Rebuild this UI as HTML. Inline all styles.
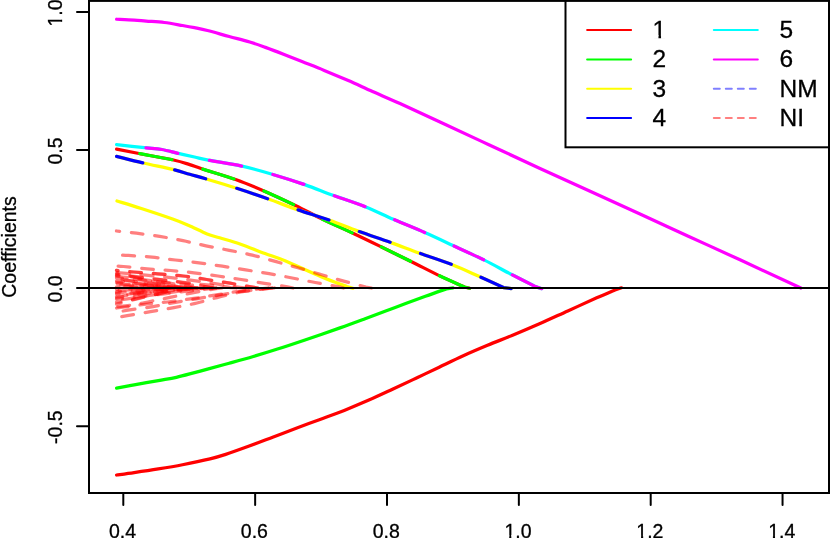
<!DOCTYPE html>
<html><head><meta charset="utf-8"><title>Coefficient paths</title>
<style>html,body{margin:0;padding:0;background:#fff}body{width:830px;height:538px;overflow:hidden}svg{display:block}text{font-family:"Liberation Sans",sans-serif;fill:#000}</style>
</head><body>
<div style="will-change:transform;width:830px;height:538px">
<svg width="830" height="538" viewBox="0 0 830 538">
<rect x="0" y="0" width="830" height="538" fill="#fff"/>
<g fill="none" stroke-width="3.25" stroke-linecap="round" stroke-linejoin="round">
<path d="M621.50 287.80 L615.00 289.90 C611.95 291.22 604.57 294.34 596.70 297.84 C588.83 301.34 577.43 306.57 567.80 310.93 C558.17 315.28 548.20 319.91 538.90 324.00 C529.60 328.08 520.57 331.89 512.00 335.44 C503.43 339.00 495.62 341.94 487.50 345.33 C479.38 348.72 471.35 352.12 463.30 355.76 C455.25 359.40 447.08 363.41 439.20 367.16 C431.32 370.91 423.78 374.56 416.00 378.24 C408.22 381.92 400.45 385.56 392.50 389.24 C384.55 392.93 376.35 396.81 368.30 400.34 C360.25 403.86 352.25 407.22 344.20 410.42 C336.15 413.61 327.78 416.59 320.00 419.48 C312.22 422.37 305.28 424.83 297.50 427.74 C289.72 430.65 281.35 433.88 273.30 436.93 C265.25 439.99 257.25 443.12 249.20 446.07 C241.15 449.01 231.53 452.46 225.00 454.59 C218.47 456.73 217.08 457.19 210.00 458.88 C202.92 460.57 191.12 463.05 182.50 464.73 C173.88 466.41 166.35 467.64 158.30 468.95 C150.25 470.27 141.15 471.60 134.20 472.60 C127.25 473.61 119.53 474.60 116.60 475.00" stroke="#ff0000"/>
<path d="M453.00 287.90 L446.40 288.90 C442.90 290.13 433.93 293.21 425.40 296.29 C416.87 299.38 405.25 303.68 395.20 307.41 C385.15 311.14 374.30 315.29 365.10 318.69 C355.90 322.10 350.02 324.30 340.00 327.85 C329.98 331.39 315.42 336.42 305.00 339.96 C294.58 343.49 286.12 346.31 277.50 349.07 C268.88 351.83 261.35 354.14 253.30 356.51 C245.25 358.87 236.83 361.16 229.20 363.26 C221.57 365.37 213.28 367.58 207.50 369.14 C201.72 370.70 199.68 371.25 194.50 372.61 C189.32 373.97 182.43 375.98 176.40 377.30 C170.37 378.62 165.33 379.28 158.30 380.54 C151.27 381.79 141.15 383.59 134.20 384.85 C127.25 386.11 119.53 387.56 116.60 388.10" stroke="#00ff00"/>
<path d="M353.00 288.20 L347.00 286.60 C342.68 284.95 331.43 281.00 321.10 276.70 C310.77 272.40 294.35 264.67 285.00 260.80 C275.65 256.93 272.50 256.30 265.00 253.50 C257.50 250.70 247.57 246.62 240.00 244.00 C232.43 241.38 225.08 239.48 219.60 237.80 C214.12 236.12 212.32 236.00 207.10 233.90 C201.88 231.80 194.05 227.68 188.30 225.20 C182.55 222.72 180.43 221.78 172.60 219.00 C164.77 216.22 150.57 211.50 141.30 208.50 C132.03 205.50 121.05 202.25 117.00 201.00" stroke="#ffff00"/>
<path d="M800.80 288.00 L740.00 259.80 C731.38 255.87 704.97 243.82 688.30 236.20 C671.63 228.58 664.72 225.40 640.00 214.10 C615.28 202.80 565.28 180.00 540.00 168.40 C514.72 156.80 504.97 152.23 488.30 144.50 C471.63 136.77 454.72 128.82 440.00 122.00 C425.28 115.18 411.25 108.68 400.00 103.60 C388.75 98.52 381.12 95.33 372.50 91.50 C363.88 87.67 356.35 84.12 348.30 80.60 C340.25 77.08 331.92 73.57 324.20 70.40 C316.48 67.23 308.78 64.29 302.00 61.60 C295.22 58.91 289.60 56.62 283.50 54.25 C277.40 51.88 271.03 49.44 265.40 47.40 C259.77 45.36 255.73 43.82 249.70 42.00 C243.67 40.18 236.23 38.42 229.20 36.50 C222.17 34.58 213.28 31.97 207.50 30.50 C201.72 29.03 198.67 28.53 194.50 27.70 C190.33 26.87 187.53 26.37 182.50 25.50 C177.47 24.63 170.35 23.23 164.30 22.50 C158.25 21.77 151.22 21.50 146.20 21.10 C141.18 20.70 139.13 20.41 134.20 20.10 C129.27 19.79 119.53 19.39 116.60 19.25" stroke="#ff00ff"/>
<path d="M469.50 288.30 L464.50 287.00 C460.28 285.10 447.95 279.77 439.20 275.60 C430.45 271.43 421.70 266.82 412.00 262.00 C402.30 257.18 390.67 251.42 381.00 246.70 C371.33 241.98 363.80 238.30 354.00 233.70 C344.20 229.10 331.97 223.80 322.20 219.10 C312.43 214.40 305.22 210.23 295.40 205.50 C285.58 200.77 273.27 195.03 263.30 190.70 C253.33 186.37 245.77 183.12 235.60 179.50 C225.43 175.88 209.95 171.48 202.30 169.00 C194.65 166.52 194.52 166.10 189.70 164.60 C184.88 163.10 181.85 161.85 173.40 160.00 C164.95 158.15 148.47 155.32 139.00 153.50 C129.53 151.68 120.33 149.83 116.60 149.10" stroke="#ff0000"/>
<path d="M469.50 288.30 L464.50 287.00 C460.28 285.10 447.95 279.77 439.20 275.60 C430.45 271.43 421.70 266.82 412.00 262.00 C402.30 257.18 390.67 251.42 381.00 246.70 C371.33 241.98 363.80 238.30 354.00 233.70 C344.20 229.10 331.97 223.80 322.20 219.10 C312.43 214.40 305.22 210.23 295.40 205.50 C285.58 200.77 273.27 195.03 263.30 190.70 C253.33 186.37 245.77 183.12 235.60 179.50 C225.43 175.88 209.95 171.48 202.30 169.00 C194.65 166.52 194.52 166.10 189.70 164.60 C184.88 163.10 181.85 161.85 173.40 160.00 C164.95 158.15 148.47 155.32 139.00 153.50 C129.53 151.68 120.33 149.83 116.60 149.10" stroke="#00ff00" stroke-dasharray="32.5 32.5"/>
<path d="M511.20 288.60 L503.50 287.60 C499.48 285.77 488.02 280.45 479.40 276.60 C470.78 272.75 461.82 268.42 451.80 264.50 C441.78 260.58 429.43 256.75 419.30 253.10 C409.17 249.45 401.22 246.27 391.00 242.60 C380.78 238.93 368.22 234.82 358.00 231.10 C347.78 227.38 339.93 223.92 329.70 220.30 C319.47 216.68 306.92 212.98 296.60 209.40 C286.28 205.82 278.03 202.40 267.80 198.80 C257.57 195.20 245.45 191.10 235.20 187.80 C224.95 184.50 213.88 181.25 206.30 179.00 C198.72 176.75 195.28 175.90 189.70 174.30 C184.12 172.70 180.55 171.28 172.80 169.40 C165.05 167.52 152.57 165.17 143.20 163.00 C133.83 160.83 121.03 157.50 116.60 156.40" stroke="#ffff00"/>
<path d="M511.20 288.60 L503.50 287.60 C499.48 285.77 488.02 280.45 479.40 276.60 C470.78 272.75 461.82 268.42 451.80 264.50 C441.78 260.58 429.43 256.75 419.30 253.10 C409.17 249.45 401.22 246.27 391.00 242.60 C380.78 238.93 368.22 234.82 358.00 231.10 C347.78 227.38 339.93 223.92 329.70 220.30 C319.47 216.68 306.92 212.98 296.60 209.40 C286.28 205.82 278.03 202.40 267.80 198.80 C257.57 195.20 245.45 191.10 235.20 187.80 C224.95 184.50 213.88 181.25 206.30 179.00 C198.72 176.75 195.28 175.90 189.70 174.30 C184.12 172.70 180.55 171.28 172.80 169.40 C165.05 167.52 152.57 165.17 143.20 163.00 C133.83 160.83 121.03 157.50 116.60 156.40" stroke="#0000ff" stroke-dasharray="32.5 32.5"/>
<path d="M541.70 288.70 L535.50 286.60 C531.45 284.55 519.80 278.75 511.20 274.30 C502.60 269.85 493.60 264.70 483.90 259.90 C474.20 255.10 462.77 250.02 453.00 245.50 C443.23 240.98 435.23 237.17 425.30 232.80 C415.37 228.43 403.33 223.62 393.40 219.30 C383.47 214.98 375.77 210.90 365.70 206.90 C355.63 202.90 343.17 199.02 333.00 195.30 C322.83 191.58 314.98 188.15 304.70 184.60 C294.42 181.05 281.73 177.07 271.30 174.00 C260.87 170.93 252.60 168.50 242.10 166.20 C231.60 163.90 216.23 161.73 208.30 160.20 C200.37 158.67 199.52 158.13 194.50 157.00 C189.48 155.87 183.63 154.65 178.20 153.40 C172.77 152.15 167.53 150.45 161.90 149.50 C156.27 148.55 151.95 148.50 144.40 147.70 C136.85 146.90 121.23 145.20 116.60 144.70" stroke="#00ffff"/>
<path d="M541.70 288.70 L535.50 286.60 C531.45 284.55 519.80 278.75 511.20 274.30 C502.60 269.85 493.60 264.70 483.90 259.90 C474.20 255.10 462.77 250.02 453.00 245.50 C443.23 240.98 435.23 237.17 425.30 232.80 C415.37 228.43 403.33 223.62 393.40 219.30 C383.47 214.98 375.77 210.90 365.70 206.90 C355.63 202.90 343.17 199.02 333.00 195.30 C322.83 191.58 314.98 188.15 304.70 184.60 C294.42 181.05 281.73 177.07 271.30 174.00 C260.87 170.93 252.60 168.50 242.10 166.20 C231.60 163.90 216.23 161.73 208.30 160.20 C200.37 158.67 199.52 158.13 194.50 157.00 C189.48 155.87 183.63 154.65 178.20 153.40 C172.77 152.15 167.53 150.45 161.90 149.50 C156.27 148.55 151.95 148.50 144.40 147.70 C136.85 146.90 121.23 145.20 116.60 144.70" stroke="#ff00ff" stroke-dasharray="32.5 32.5"/>
</g>
<g fill="none" stroke="#ff0000" stroke-opacity="0.5" stroke-width="3.25" stroke-linecap="round" stroke-linejoin="round" stroke-dasharray="11.75 11.75">
<path d="M371.50 288.00 L366.00 287.10 C362.28 286.10 351.23 283.20 343.70 281.10 C336.17 279.00 328.42 276.72 320.80 274.50 C313.18 272.28 305.58 269.98 298.00 267.80 C290.42 265.62 282.90 263.50 275.30 261.40 C267.70 259.30 260.07 257.05 252.40 255.20 C244.73 253.35 237.03 251.87 229.30 250.30 C221.57 248.73 213.72 247.40 206.00 245.80 C198.28 244.20 190.72 242.27 183.00 240.70 C175.28 239.13 167.47 237.65 159.70 236.40 C151.93 235.15 143.60 234.10 136.40 233.20 C129.20 232.30 119.82 231.37 116.50 231.00"/>
<path d="M343.50 288.00 L338.00 286.70 C334.22 286.00 322.93 283.95 315.30 282.50 C307.67 281.05 299.90 279.48 292.20 278.00 C284.50 276.52 276.85 274.95 269.10 273.60 C261.35 272.25 253.50 271.13 245.70 269.90 C237.90 268.67 230.08 267.38 222.30 266.20 C214.52 265.02 206.83 263.83 199.00 262.80 C191.17 261.77 183.13 260.93 175.30 260.00 C167.47 259.07 159.83 257.97 152.00 257.20 C144.17 256.43 134.22 255.80 128.30 255.40 C122.38 255.00 118.47 254.90 116.50 254.80"/>
<path d="M293.00 288.00 L287.50 286.80 C283.67 286.23 272.22 284.62 264.50 283.40 C256.78 282.18 248.97 280.73 241.20 279.50 C233.43 278.27 225.77 277.12 217.90 276.00 C210.03 274.88 201.83 273.72 194.00 272.80 C186.17 271.88 178.72 271.15 170.90 270.50 C163.08 269.85 155.00 269.57 147.10 268.90 C139.20 268.23 128.60 266.98 123.50 266.50 C118.40 266.02 117.67 266.08 116.50 266.00"/>
<path d="M271.80 288.00 L260.00 289.40 C256.83 289.83 247.75 290.77 241.00 292.00 C234.25 293.23 226.83 294.97 219.50 296.80 C212.17 298.63 204.60 301.20 197.00 303.00 C189.40 304.80 181.65 306.15 173.90 307.60 C166.15 309.05 158.28 310.37 150.50 311.70 C142.72 313.03 132.87 314.58 127.20 315.60 C121.53 316.62 118.28 317.43 116.50 317.80"/>
<path d="M274.30 288.00 L264.00 288.90 C260.17 289.33 248.42 290.48 241.00 291.50 C233.58 292.52 226.92 293.78 219.50 295.00 C212.08 296.22 204.08 297.53 196.50 298.80 C188.92 300.07 181.25 301.30 174.00 302.60 C166.75 303.90 160.38 305.38 153.00 306.60 C145.62 307.82 135.78 308.97 129.70 309.90 C123.62 310.83 118.70 311.82 116.50 312.20"/>
<path d="M268.00 288.00 L260.00 288.90 C257.00 289.22 249.00 289.85 242.00 290.80 C235.00 291.75 226.00 293.33 218.00 294.60 C210.00 295.87 201.83 297.25 194.00 298.40 C186.17 299.55 178.73 300.57 171.00 301.50 C163.27 302.43 155.35 303.08 147.60 304.00 C139.85 304.92 129.68 306.33 124.50 307.00 C119.32 307.67 117.83 307.83 116.50 308.00"/>
<path d="M222.00 288.00 L216.00 288.70 C214.08 289.02 210.25 289.53 204.50 290.60 C198.75 291.67 189.12 293.58 181.50 295.10 C173.88 296.62 166.45 298.15 158.80 299.70 C151.15 301.25 142.65 303.22 135.60 304.40 C128.55 305.58 119.68 306.40 116.50 306.80"/>
<path d="M190.00 288.00 L184.00 288.80 C181.83 289.18 177.00 289.90 171.00 291.10 C165.00 292.30 155.72 294.30 148.00 296.00 C140.28 297.70 129.95 300.27 124.70 301.30 C119.45 302.33 117.87 302.05 116.50 302.20"/>
<path d="M258.00 288.00 L251.00 286.90 C247.50 286.28 237.38 284.43 230.00 283.20 C222.62 281.97 214.53 280.70 206.70 279.50 C198.87 278.30 191.20 276.95 183.00 276.00 C174.80 275.05 165.73 274.47 157.50 273.80 C149.27 273.13 140.43 272.57 133.60 272.00 C126.77 271.43 119.35 270.67 116.50 270.40"/>
<path d="M258.00 288.00 L251.00 286.90 C247.50 286.28 237.38 284.43 230.00 283.20 C222.62 281.97 214.53 280.70 206.70 279.50 C198.87 278.30 191.20 276.95 183.00 276.00 C174.80 275.05 165.73 274.47 157.50 273.80 C149.27 273.13 140.43 272.57 133.60 272.00 C126.77 271.43 119.35 270.67 116.50 270.40"/>
<path d="M246.00 288.00 L240.00 287.30 C237.50 286.95 231.42 286.15 225.00 285.20 C218.58 284.25 208.83 282.67 201.50 281.60 C194.17 280.53 187.92 279.65 181.00 278.80 C174.08 277.95 167.67 277.30 160.00 276.50 C152.33 275.70 142.25 274.65 135.00 274.00 C127.75 273.35 119.58 272.83 116.50 272.60"/>
<path d="M236.00 288.00 L231.00 287.60 C229.33 287.38 226.42 286.90 221.00 286.30 C215.58 285.70 207.00 284.92 198.50 284.00 C190.00 283.08 179.75 281.88 170.00 280.80 C160.25 279.72 148.92 278.38 140.00 277.50 C131.08 276.62 120.42 275.83 116.50 275.50"/>
<path d="M212.00 288.00 L200.06 285.40 C198.07 285.08 192.10 284.09 188.12 283.48 C184.15 282.87 180.17 282.31 176.19 281.75 C172.21 281.19 168.23 280.66 164.25 280.13 C160.27 279.61 156.29 279.10 152.31 278.59 C148.33 278.09 144.35 277.60 140.38 277.12 C136.40 276.63 132.42 276.16 128.44 275.69 C124.46 275.22 118.49 274.53 116.50 274.30"/>
<path d="M197.00 288.00 L186.94 285.99 C185.26 285.72 180.23 284.89 176.88 284.37 C173.52 283.85 170.17 283.36 166.81 282.87 C163.46 282.39 160.10 281.92 156.75 281.45 C153.40 280.99 150.04 280.54 146.69 280.09 C143.33 279.64 139.98 279.20 136.62 278.76 C133.27 278.32 129.92 277.89 126.56 277.47 C123.21 277.04 118.18 276.41 116.50 276.20"/>
<path d="M216.00 288.00 L203.56 286.43 C201.49 286.20 195.27 285.51 191.12 285.07 C186.98 284.63 182.83 284.20 178.69 283.78 C174.54 283.36 170.40 282.94 166.25 282.53 C162.10 282.12 157.96 281.72 153.81 281.32 C149.67 280.92 145.52 280.52 141.38 280.13 C137.23 279.73 133.08 279.34 128.94 278.96 C124.79 278.57 118.57 277.99 116.50 277.80"/>
<path d="M183.00 288.00 L174.69 286.37 C173.30 286.17 169.15 285.55 166.38 285.16 C163.60 284.78 160.83 284.43 158.06 284.08 C155.29 283.73 152.52 283.39 149.75 283.06 C146.98 282.73 144.21 282.41 141.44 282.10 C138.67 281.78 135.90 281.47 133.12 281.17 C130.35 280.86 127.58 280.57 124.81 280.27 C122.04 279.98 117.89 279.55 116.50 279.40"/>
<path d="M170.00 288.00 L163.31 286.89 C162.20 286.73 158.85 286.24 156.62 285.93 C154.40 285.62 152.17 285.32 149.94 285.02 C147.71 284.72 145.48 284.43 143.25 284.14 C141.02 283.85 138.79 283.57 136.56 283.28 C134.33 283.00 132.10 282.72 129.88 282.44 C127.65 282.16 125.42 281.89 123.19 281.62 C120.96 281.34 117.61 280.94 116.50 280.80"/>
<path d="M192.00 288.00 L182.56 287.29 C180.99 287.17 176.27 286.81 173.12 286.57 C169.98 286.34 166.83 286.10 163.69 285.86 C160.54 285.62 157.40 285.39 154.25 285.15 C151.10 284.91 147.96 284.68 144.81 284.44 C141.67 284.20 138.52 283.96 135.38 283.73 C132.23 283.49 129.08 283.25 125.94 283.01 C122.79 282.77 118.07 282.42 116.50 282.30"/>
<path d="M176.00 288.00 L168.56 287.32 C167.32 287.23 163.60 286.93 161.12 286.74 C158.65 286.55 156.17 286.36 153.69 286.18 C151.21 286.00 148.73 285.82 146.25 285.64 C143.77 285.47 141.29 285.29 138.81 285.12 C136.33 284.94 133.85 284.77 131.38 284.60 C128.90 284.43 126.42 284.27 123.94 284.10 C121.46 283.93 117.74 283.68 116.50 283.60"/>
<path d="M203.00 288.00 L192.19 287.60 C190.39 287.53 184.98 287.33 181.38 287.20 C177.77 287.07 174.17 286.93 170.56 286.80 C166.96 286.67 163.35 286.53 159.75 286.40 C156.15 286.27 152.54 286.13 148.94 286.00 C145.33 285.87 141.73 285.73 138.12 285.60 C134.52 285.47 130.92 285.33 127.31 285.20 C123.71 285.07 118.30 284.87 116.50 284.80"/>
<path d="M160.00 288.00 L154.56 287.74 C153.66 287.69 150.94 287.56 149.12 287.48 C147.31 287.39 145.50 287.30 143.69 287.21 C141.88 287.12 140.06 287.04 138.25 286.95 C136.44 286.86 134.62 286.77 132.81 286.69 C131.00 286.60 129.19 286.51 127.38 286.42 C125.56 286.34 123.75 286.25 121.94 286.16 C120.12 286.07 117.41 285.94 116.50 285.90"/>
<path d="M166.00 288.00 L159.81 287.85 C158.78 287.83 155.69 287.75 153.62 287.70 C151.56 287.65 149.50 287.60 147.44 287.55 C145.38 287.50 143.31 287.45 141.25 287.40 C139.19 287.35 137.12 287.30 135.06 287.25 C133.00 287.20 130.94 287.15 128.88 287.10 C126.81 287.05 124.75 287.00 122.69 286.95 C120.62 286.90 117.53 286.82 116.50 286.80"/>
<path d="M187.00 288.00 L178.19 286.50 C176.72 286.21 172.31 285.37 169.38 284.78 C166.44 284.19 163.50 283.58 160.56 282.97 C157.62 282.35 154.69 281.73 151.75 281.10 C148.81 280.46 145.88 279.82 142.94 279.17 C140.00 278.53 137.06 277.87 134.12 277.21 C131.19 276.56 128.25 275.89 125.31 275.22 C122.38 274.55 117.97 273.54 116.50 273.20"/>
<path d="M180.00 288.00 L172.06 287.04 C170.74 286.85 166.77 286.31 164.12 285.93 C161.48 285.55 158.83 285.16 156.19 284.77 C153.54 284.38 150.90 283.97 148.25 283.57 C145.60 283.16 142.96 282.75 140.31 282.34 C137.67 281.92 135.02 281.50 132.38 281.08 C129.73 280.65 127.08 280.23 124.44 279.80 C121.79 279.37 117.82 278.72 116.50 278.50"/>
<path d="M165.00 288.00 L158.94 288.16 C157.93 288.19 154.90 288.27 152.88 288.32 C150.85 288.38 148.83 288.43 146.81 288.49 C144.79 288.54 142.77 288.60 140.75 288.65 C138.73 288.70 136.71 288.76 134.69 288.81 C132.67 288.87 130.65 288.92 128.62 288.98 C126.60 289.03 124.58 289.08 122.56 289.14 C120.54 289.19 117.51 289.27 116.50 289.30"/>
<path d="M178.00 288.00 L170.31 288.30 C169.03 288.35 165.19 288.50 162.62 288.60 C160.06 288.70 157.50 288.80 154.94 288.90 C152.38 289.00 149.81 289.10 147.25 289.20 C144.69 289.30 142.12 289.40 139.56 289.50 C137.00 289.60 134.44 289.70 131.88 289.80 C129.31 289.90 126.75 290.00 124.19 290.10 C121.62 290.20 117.78 290.35 116.50 290.40"/>
<path d="M191.00 288.00 L181.69 288.45 C180.14 288.52 175.48 288.75 172.38 288.90 C169.27 289.05 166.17 289.20 163.06 289.35 C159.96 289.50 156.85 289.65 153.75 289.80 C150.65 289.95 147.54 290.10 144.44 290.25 C141.33 290.40 138.23 290.55 135.12 290.70 C132.02 290.85 128.92 291.00 125.81 291.15 C122.71 291.30 118.05 291.53 116.50 291.60"/>
<path d="M172.00 288.00 L165.06 288.74 C163.91 288.85 160.44 289.17 158.12 289.38 C155.81 289.59 153.50 289.79 151.19 289.99 C148.88 290.18 146.56 290.38 144.25 290.57 C141.94 290.77 139.62 290.96 137.31 291.14 C135.00 291.33 132.69 291.52 130.38 291.71 C128.06 291.89 125.75 292.07 123.44 292.26 C121.12 292.44 117.66 292.71 116.50 292.80"/>
<path d="M213.00 288.00 L200.94 288.75 C198.93 288.88 192.90 289.25 188.88 289.50 C184.85 289.75 180.83 290.00 176.81 290.25 C172.79 290.50 168.77 290.75 164.75 291.00 C160.73 291.25 156.71 291.50 152.69 291.75 C148.67 292.00 144.65 292.25 140.62 292.50 C136.60 292.75 132.58 293.00 128.56 293.25 C124.54 293.50 118.51 293.88 116.50 294.00"/>
<path d="M186.00 288.00 L177.31 289.12 C175.86 289.29 171.52 289.78 168.62 290.10 C165.73 290.41 162.83 290.72 159.94 291.02 C157.04 291.32 154.15 291.62 151.25 291.91 C148.35 292.21 145.46 292.49 142.56 292.78 C139.67 293.07 136.77 293.35 133.88 293.63 C130.98 293.92 128.08 294.20 125.19 294.47 C122.29 294.75 117.95 295.16 116.50 295.30"/>
<path d="M197.00 288.00 L186.94 289.06 C185.26 289.24 180.23 289.77 176.88 290.12 C173.52 290.48 170.17 290.83 166.81 291.19 C163.46 291.54 160.10 291.90 156.75 292.25 C153.40 292.60 150.04 292.96 146.69 293.31 C143.33 293.67 139.98 294.02 136.62 294.38 C133.27 294.73 129.92 295.08 126.56 295.44 C123.21 295.79 118.18 296.32 116.50 296.50"/>
<path d="M169.00 288.00 L162.44 289.23 C161.34 289.43 158.06 290.04 155.88 290.45 C153.69 290.86 151.50 291.27 149.31 291.68 C147.12 292.08 144.94 292.49 142.75 292.90 C140.56 293.31 138.38 293.72 136.19 294.12 C134.00 294.53 131.81 294.94 129.62 295.35 C127.44 295.76 125.25 296.17 123.06 296.57 C120.88 296.98 117.59 297.60 116.50 297.80"/>
<path d="M216.00 288.00 L203.56 289.40 C201.49 289.63 195.27 290.33 191.12 290.80 C186.98 291.27 182.83 291.73 178.69 292.20 C174.54 292.67 170.40 293.13 166.25 293.60 C162.10 294.07 157.96 294.53 153.81 295.00 C149.67 295.47 145.52 295.93 141.38 296.40 C137.23 296.87 133.08 297.33 128.94 297.80 C124.79 298.27 118.57 298.97 116.50 299.20"/>
<path d="M204.00 288.00 L193.06 289.28 C191.24 289.52 185.77 290.24 182.12 290.74 C178.48 291.24 174.83 291.76 171.19 292.28 C167.54 292.81 163.90 293.34 160.25 293.88 C156.60 294.42 152.96 294.96 149.31 295.51 C145.67 296.06 142.02 296.62 138.38 297.18 C134.73 297.74 131.08 298.31 127.44 298.88 C123.79 299.45 118.32 300.31 116.50 300.60"/>
<path d="M190.00 288.00 L180.81 289.32 C179.28 289.60 174.69 290.43 171.62 291.03 C168.56 291.63 165.50 292.28 162.44 292.93 C159.38 293.59 156.31 294.27 153.25 294.96 C150.19 295.66 147.12 296.38 144.06 297.10 C141.00 297.83 137.94 298.57 134.88 299.33 C131.81 300.08 128.75 300.85 125.69 301.63 C122.62 302.41 118.03 303.61 116.50 304.00"/>
</g>
<line x1="89" y1="288" x2="829" y2="288" stroke="#000" stroke-width="2"/>
<rect x="89" y="0.9" width="740" height="492.1" fill="none" stroke="#000" stroke-width="2"/>
<g stroke="#000" stroke-width="2" stroke-linecap="round">
<line x1="77" y1="12" x2="89" y2="12"/>
<line x1="77" y1="150.05" x2="89" y2="150.05"/>
<line x1="77" y1="288.05" x2="89" y2="288.05"/>
<line x1="77" y1="426.2" x2="89" y2="426.2"/>
<line x1="123.3" y1="493" x2="123.3" y2="505"/>
<line x1="255.15" y1="493" x2="255.15" y2="505"/>
<line x1="387" y1="493" x2="387" y2="505"/>
<line x1="518.85" y1="493" x2="518.85" y2="505"/>
<line x1="650.7" y1="493" x2="650.7" y2="505"/>
<line x1="782.55" y1="493" x2="782.55" y2="505"/>
</g>
<g font-size="19.5px" text-anchor="middle" stroke="#000" stroke-width="0.3">
<text x="122.5" y="537.5">0.4</text>
<text x="254.35" y="537.5">0.6</text>
<text x="386.2" y="537.5">0.8</text>
<text x="518.05" y="537.5">1.0</text>
<g fill="#fff" stroke="none" transform="translate(504.50 537.5)"><rect x="0.49" y="-2.46" width="4.22" height="3.46"/><rect x="6.83" y="-2.46" width="4.22" height="3.46"/></g>
<text x="649.9" y="537.5">1.2</text>
<g fill="#fff" stroke="none" transform="translate(636.35 537.5)"><rect x="0.49" y="-2.46" width="4.22" height="3.46"/><rect x="6.83" y="-2.46" width="4.22" height="3.46"/></g>
<text x="781.75" y="537.5">1.4</text>
<g fill="#fff" stroke="none" transform="translate(768.20 537.5)"><rect x="0.49" y="-2.46" width="4.22" height="3.46"/><rect x="6.83" y="-2.46" width="4.22" height="3.46"/></g>
<text transform="translate(62.3 12.95) rotate(-90)">1.0</text>
<g fill="#fff" stroke="none" transform="translate(62.3 12.95) rotate(-90)"><rect x="-13.07" y="-2.46" width="4.22" height="3.46"/><rect x="-6.73" y="-2.46" width="4.22" height="3.46"/></g>
<text transform="translate(62.3 151) rotate(-90)">0.5</text>
<text transform="translate(62.3 289) rotate(-90)">0.0</text>
<text transform="translate(62.3 427.15) rotate(-90)">-0.5</text>
<text transform="translate(16 247) rotate(-90)">Coefficients</text>
</g>
<rect x="565.5" y="0.9" width="270" height="146.4" fill="#fff" stroke="#000" stroke-width="2"/>
<line x1="829" y1="0" x2="829" y2="493" stroke="#000" stroke-width="2"/>
<g stroke-width="2" stroke-linecap="round" fill="none">
<line x1="587.1" y1="30" x2="631.1" y2="30" stroke="#ff0000"/>
<line x1="587.1" y1="59.4" x2="631.1" y2="59.4" stroke="#00ff00"/>
<line x1="587.1" y1="88.7" x2="631.1" y2="88.7" stroke="#ffff00"/>
<line x1="587.1" y1="118.1" x2="631.1" y2="118.1" stroke="#0000ff"/>
<line x1="713.8" y1="30" x2="757.8" y2="30" stroke="#00ffff"/>
<line x1="713.8" y1="59.4" x2="757.8" y2="59.4" stroke="#ff00ff"/>
<line x1="713.8" y1="88.7" x2="757.8" y2="88.7" stroke="#0000ff" stroke-opacity="0.5" stroke-dasharray="6 6"/>
<line x1="713.8" y1="118.1" x2="757.8" y2="118.1" stroke="#ff0000" stroke-opacity="0.5" stroke-dasharray="6 6"/>
</g>
<g font-size="24.5px" stroke="#000" stroke-width="0.3">
<text x="652.5" y="37.9">1</text>
<g fill="#fff" stroke="none" transform="translate(652.5 37.9)"><rect x="0.87" y="-2.83" width="5.09" height="3.83"/><rect x="8.53" y="-2.83" width="5.05" height="3.83"/></g>
<text x="652.5" y="67.3">2</text>
<text x="652.5" y="96.6">3</text>
<text x="652.5" y="126">4</text>
<text x="779.5" y="37.9">5</text>
<text x="779.5" y="67.3">6</text>
<text x="779.5" y="96.6">NM</text>
<text x="779.5" y="126">NI</text>
</g>
</svg></div>
</body></html>
